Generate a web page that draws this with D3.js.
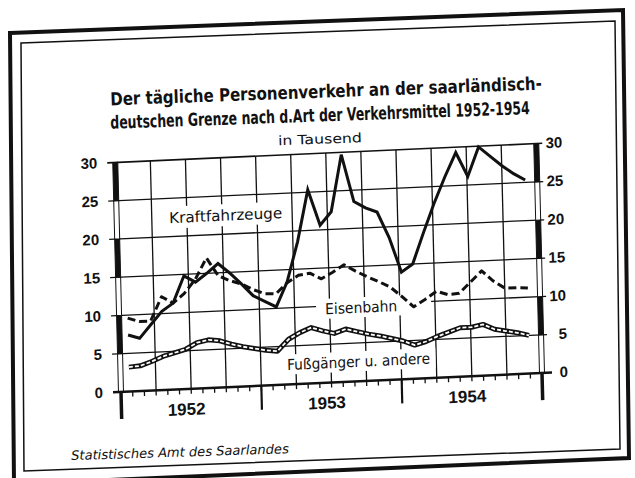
<!DOCTYPE html>
<html>
<head>
<meta charset="utf-8">
<script src="https://cdn.jsdelivr.net/npm/d3@7"></script>
<style>
  body { margin: 0; background: #fff; }
  svg { display: block; }
</style>
</head>
<body>
<svg id="chart" width="635" height="478"></svg>
<script>
// monthly values, in thousands per day
const months = [
  "Jan 52", "Feb 52", "Mär 52", "Apr 52", "Mai 52", "Jun 52", "Jul 52", "Aug 52", "Sep 52", "Okt 52", "Nov 52", "Dez 52",
  "Jan 53", "Feb 53", "Mär 53", "Apr 53", "Mai 53", "Jun 53", "Jul 53", "Aug 53", "Sep 53", "Okt 53", "Nov 53", "Dez 53",
  "Jan 54", "Feb 54", "Mär 54", "Apr 54", "Mai 54", "Jun 54", "Jul 54", "Aug 54", "Sep 54", "Okt 54", "Nov 54", "Dez 54"
];
const kraftfahrzeuge = [7.4, 6.9, 8.6, 10.3, 11.3, 14.8, 13.9, 15.0, 16.2, 14.9, 13.4, 11.8,
  11.0, 10.2, 13.4, 18.6, 25.3, 20.6, 22.3, 29.7, 23.5, 22.6, 22.0, 18.6,
  14.0, 15.0, 19.0, 22.8, 26.2, 29.3, 26.1, 29.9, 28.6, 27.3, 26.2, 25.3];
const eisenbahn = [9.6, 9.1, 9.1, 12.2, 11.3, 12.5, 14.3, 17.0, 14.6, 13.9, 13.4, 12.6,
  12.0, 11.9, 13.3, 14.2, 14.4, 13.6, 14.4, 15.3, 14.4, 13.6, 12.9, 12.1,
  10.8, 9.4, 10.3, 11.3, 10.8, 10.9, 12.3, 13.7, 12.3, 11.3, 11.3, 11.2];
const fussgaenger = [3.2, 3.3, 3.8, 4.4, 4.8, 5.2, 6.0, 6.3, 6.1, 5.6, 5.2, 4.9,
  4.6, 4.4, 5.9, 6.7, 7.3, 6.8, 6.4, 6.9, 6.5, 6.1, 5.8, 5.4,
  5.0, 4.4, 4.8, 5.4, 5.9, 6.4, 6.4, 6.7, 6.0, 5.7, 5.4, 5.0];
const yTicks = [0, 5, 10, 15, 20, 25, 30];
const years = ["1952", "1953", "1954"];

const titleLines = ["Der tägliche Personenverkehr an der saarländisch-",
                    "deutschen Grenze nach d.Art der Verkehrsmittel 1952-1954"];

const svg = d3.select("#chart");
const ink = "#111";

// frame (the scan is a little tilted, so corners are given as they look)
svg.append("path")
  .attr("d", "M10,33 L623,10 L629,458 L14,484 Z")
  .attr("fill", "none").attr("stroke", ink).attr("stroke-width", 4);
svg.append("path")
  .attr("d", "M21,43 L615,21 L620,449 L24,471 Z")
  .attr("fill", "none").attr("stroke", ink).attr("stroke-width", 1.5);

// squeeze a centred text to a width, then tilt it like the scan
function tilted(txt, cx, cy, width, angle, size, weight, style) {
  const t = svg.append("text")
    .attr("x", cx).attr("y", cy + size * 0.36)
    .attr("text-anchor", "middle")
    .attr("font-family", "DejaVu Sans").attr("font-size", size)
    .attr("font-weight", weight || "normal")
    .attr("font-style", style || "normal")
    .attr("fill", ink)
    .text(txt);
  const s = width / t.node().getComputedTextLength();
  t.attr("transform", `rotate(${angle},${cx},${cy}) translate(${cx},0) scale(${s},1) translate(${-cx},0)`);
  return t;
}

tilted(titleLines[0], 326, 91, 432, -2.1, 18, "bold");
tilted(titleLines[1], 320, 115, 420, -2.0, 18, "bold");
tilted("in Tausend", 320, 139, 84, -2.0, 13);
tilted("Statistisches Amt des Saarlandes", 180, 452, 218, -1.8, 13, "normal", "italic");

// plot group, sheared to follow the scan
const g = svg.append("g").attr("transform", "matrix(1,-0.045,0.025,1,-9.8,5.445)");

const x0 = 121, x1 = 542, yBase = 392;
const xMonth = d3.scaleLinear().domain([0, 36]).range([x0, x1]);
const xData = d3.scalePoint().domain(months).range([129.5, 530]);
const y = d3.scaleLinear().domain([0, 30]).range([yBase, yBase - 229.5]);

// horizontal grid
g.selectAll(".hgrid")
  .data(yTicks.filter(d => d > 0))
  .join("line")
  .attr("class", "hgrid")
  .attr("x1", x0 - 8).attr("x2", x1 + 6)
  .attr("y1", d => y(d)).attr("y2", d => y(d))
  .attr("stroke", ink).attr("stroke-width", d => d === 30 ? 1.6 : 1.3);

// vertical grid every quarter
g.selectAll(".vgrid")
  .data(d3.range(3, 36, 3))
  .join("line")
  .attr("class", "vgrid")
  .attr("x1", d => xMonth(d)).attr("x2", d => xMonth(d))
  .attr("y1", yBase).attr("y2", y(30))
  .attr("stroke", ink).attr("stroke-width", 1.3);

// month ticks
g.selectAll(".mtick")
  .data(d3.range(1, 36))
  .join("line")
  .attr("class", "mtick")
  .attr("x1", d => xMonth(d)).attr("x2", d => xMonth(d))
  .attr("y1", yBase).attr("y2", yBase + 5)
  .attr("stroke", ink).attr("stroke-width", 1.3);

// year boundaries
g.selectAll(".ytick")
  .data([12, 24])
  .join("line")
  .attr("class", "ytick")
  .attr("x1", d => xMonth(d)).attr("x2", d => xMonth(d))
  .attr("y1", yBase).attr("y2", yBase + 24)
  .attr("stroke", ink).attr("stroke-width", 2.2);

// label boxes (paste-on labels hide the grid behind them)
const labels = [
  { text: "Kraftfahrzeuge", cx: 230, cy: 220, w: 113, box: [171, 289, 209, 231] },
  { text: "Eisenbahn", cx: 363, cy: 318, w: 72, box: [318, 433, 308, 328] },
  { text: "Fußgänger u. andere", cx: 359, cy: 372, w: 143, box: [283, 436, 362, 382] }
];
g.selectAll(".lbox")
  .data(labels)
  .join("rect")
  .attr("class", "lbox")
  .attr("x", d => d.box[0]).attr("y", d => d.box[2])
  .attr("width", d => d.box[1] - d.box[0]).attr("height", d => d.box[3] - d.box[2])
  .attr("fill", "#fff");
g.selectAll(".ltext")
  .data(labels)
  .join("text")
  .attr("class", "ltext")
  .attr("x", d => d.cx).attr("y", d => d.cy + 5.5)
  .attr("text-anchor", "middle")
  .attr("font-family", "DejaVu Sans").attr("font-size", 15)
  .attr("textLength", d => d.w).attr("lengthAdjust", "spacingAndGlyphs")
  .attr("fill", ink)
  .text(d => d.text);

// axis bars, alternating black/white every 5
[x0, x1].forEach(ax => {
  g.selectAll(null)
    .data(d3.range(0, 6))
    .join("rect")
    .attr("x", ax - 2.5).attr("width", 5)
    .attr("y", k => y(k * 5 + 5))
    .attr("height", k => y(k * 5) - y(k * 5 + 5))
    .attr("fill", k => k % 2 ? ink : "#fff")
    .attr("stroke", ink).attr("stroke-width", 1);
});

// baseline
g.append("line")
  .attr("x1", x0 - 8).attr("x2", x1 + 10)
  .attr("y1", yBase).attr("y2", yBase)
  .attr("stroke", ink).attr("stroke-width", 2.5);

// end markers below the axis
g.selectAll(".etick")
  .data([0, 36])
  .join("line")
  .attr("class", "etick")
  .attr("x1", d => xMonth(d)).attr("x2", d => xMonth(d))
  .attr("y1", yBase).attr("y2", yBase + 27)
  .attr("stroke", ink).attr("stroke-width", 3.5);

// tick labels both sides
g.selectAll(".ylabL")
  .data(yTicks)
  .join("text")
  .attr("class", "ylabL")
  .attr("x", 103).attr("y", d => y(d) + 5)
  .attr("text-anchor", "end")
  .attr("font-family", "Liberation Sans").attr("font-weight", "bold").attr("font-size", 15)
  .attr("fill", ink)
  .text(d => d);
g.selectAll(".ylabR")
  .data(yTicks)
  .join("text")
  .attr("class", "ylabR")
  .attr("x", 568).attr("y", d => y(d) + 5)
  .attr("text-anchor", "end")
  .attr("font-family", "Liberation Sans").attr("font-weight", "bold").attr("font-size", 15)
  .attr("fill", ink)
  .text(d => d);

// year labels
g.selectAll(".year")
  .data(years)
  .join("text")
  .attr("class", "year")
  .attr("x", (d, i) => xMonth(i * 12 + 6) - 5)
  .attr("y", yBase + 26)
  .attr("text-anchor", "middle")
  .attr("font-family", "Liberation Sans").attr("font-weight", "bold").attr("font-size", 17)
  .attr("fill", ink)
  .text(d => d);

// series
const line = vals => d3.line()
  .x((d, i) => xData(months[i]))
  .y(d => y(d))(vals);

// Fußgänger: black band with a white broken core
g.append("path")
  .attr("d", line(fussgaenger))
  .attr("fill", "none").attr("stroke", ink).attr("stroke-width", 5)
  .attr("stroke-linejoin", "round");
g.append("path")
  .attr("d", line(fussgaenger))
  .attr("fill", "none").attr("stroke", "#fff").attr("stroke-width", 1.8)
  .attr("stroke-dasharray", "4,2")
  .attr("stroke-linejoin", "round");

// Eisenbahn: dashed
g.append("path")
  .attr("d", line(eisenbahn))
  .attr("fill", "none").attr("stroke", ink).attr("stroke-width", 3)
  .attr("stroke-dasharray", "8,4")
  .attr("stroke-linejoin", "round");

// Kraftfahrzeuge: solid
g.append("path")
  .attr("d", line(kraftfahrzeuge))
  .attr("fill", "none").attr("stroke", ink).attr("stroke-width", 3)
  .attr("stroke-linejoin", "miter");
</script>
</body>
</html>
